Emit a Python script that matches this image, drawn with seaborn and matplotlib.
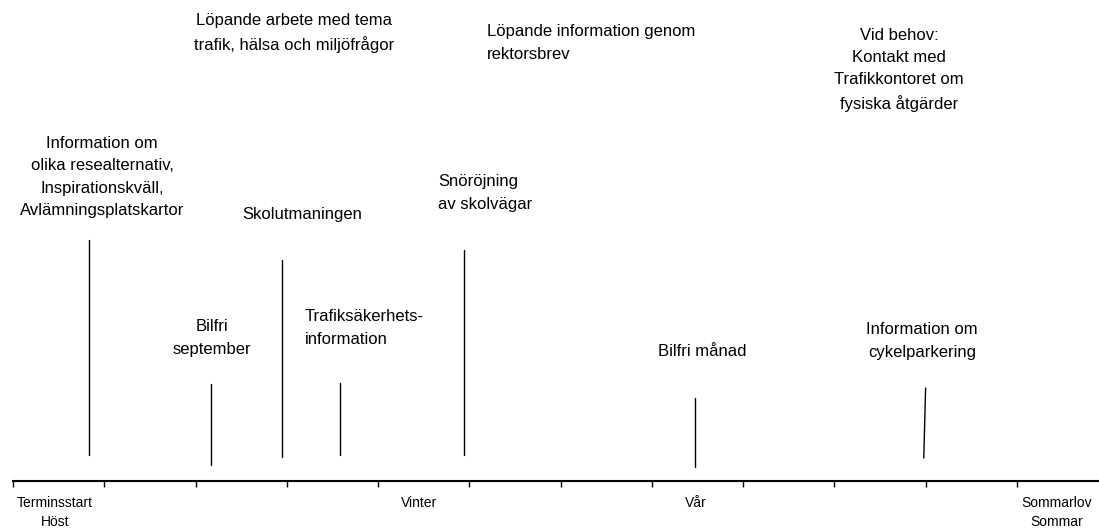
import matplotlib
matplotlib.use("Agg")
import matplotlib.pyplot as plt
import seaborn as sns
import pandas as pd

# ---- data ----
# timeline: 12 month ticks, period labels between ticks
month_ticks = list(range(12))
period_labels = ["Terminsstart\nHöst", "Vinter", "Vår", "Sommarlov\nSommar"]
period_pos = [0.46, 4.45, 7.48, 11.44]

# event marker lines: position on timeline and vertical extent (height above axis)
event_names = ["Info resealternativ", "Bilfri september", "Skolutmaningen",
               "Trafiksäkerhet", "Snöröjning", "Bilfri månad", "Cykelparkering"]
event_x_low = [0.83, 2.17, 2.95, 3.58, 4.94, 7.47, 9.98]
event_x_high = [0.83, 2.17, 2.95, 3.58, 4.94, 7.47, 10.00]
event_y_low = [26, 16, 24, 26, 26, 14, 23]
event_y_high = [241, 97, 221, 98, 231, 83, 93]

# text notes
note_texts = [
    "Information om\nolika resealternativ,\nInspirationskväll,\nAvlämningsplatskartor",
    "Löpande arbete med tema\ntrafik, hälsa och miljöfrågor",
    "Löpande information genom\nrektorsbrev",
    "Vid behov:\nKontakt med\nTrafikkontoret om\nfysiska åtgärder",
    "Skolutmaningen",
    "Snöröjning\nav skolvägar",
    "Bilfri\nseptember",
    "Trafiksäkerhets-\ninformation",
    "Bilfri månad",
    "Information om\ncykelparkering",
]
note_x = [0.975, 3.08, 5.19, 9.71, 3.17, 4.66, 2.18, 3.20, 7.55, 9.96]
note_y = [304, 448, 438, 411, 266, 288, 143, 153, 129, 140]
note_ha = ["center", "center", "left", "center", "center", "left",
           "center", "left", "center", "center"]

# ---- build table for seaborn ----
rows = []
for name, xl, xh, yl, yh in zip(event_names, event_x_low, event_x_high,
                                event_y_low, event_y_high):
    rows.append({"event": name, "x": xl, "y": yl})
    rows.append({"event": name, "x": xh, "y": yh})
df = pd.DataFrame(rows)

sns.set_theme(style="white")
plt.rcParams["font.family"] = ["Liberation Sans", "DejaVu Sans"]

W, H = 1099, 528
fig = plt.figure(figsize=(W / 100, H / 100), dpi=100)
ax = fig.add_axes([13 / W, 47 / H, 1086 / W, 481 / H])

sns.lineplot(data=df, x="x", y="y", units="event", estimator=None,
             color="black", linewidth=1.0, sort=False, ax=ax, legend=False)

for t, x, y, ha in zip(note_texts, note_x, note_y, note_ha):
    ax.text(x, y, t, ha=ha, va="center", fontsize=12, color="black",
            linespacing=1.6, multialignment=ha, clip_on=False)

ax.set_xlim(0, 11.9)
ax.set_ylim(0, 481)
ax.set_xlabel("")
ax.set_ylabel("")
ax.set_yticks([])
for s in ["top", "left", "right"]:
    ax.spines[s].set_visible(False)
ax.spines["bottom"].set_color("black")
ax.spines["bottom"].set_linewidth(1.5)

ax.set_xticks(month_ticks)
ax.set_xticklabels([])
ax.tick_params(axis="x", which="major", bottom=True, direction="out",
               length=4, width=1, color="black")
ax.set_xticks(period_pos, minor=True)
ax.set_xticklabels(period_labels, minor=True, fontsize=10, color="black",
                   linespacing=1.39)
ax.tick_params(axis="x", which="minor", bottom=True, length=0, pad=11)

fig.savefig("out.png", dpi=100)
